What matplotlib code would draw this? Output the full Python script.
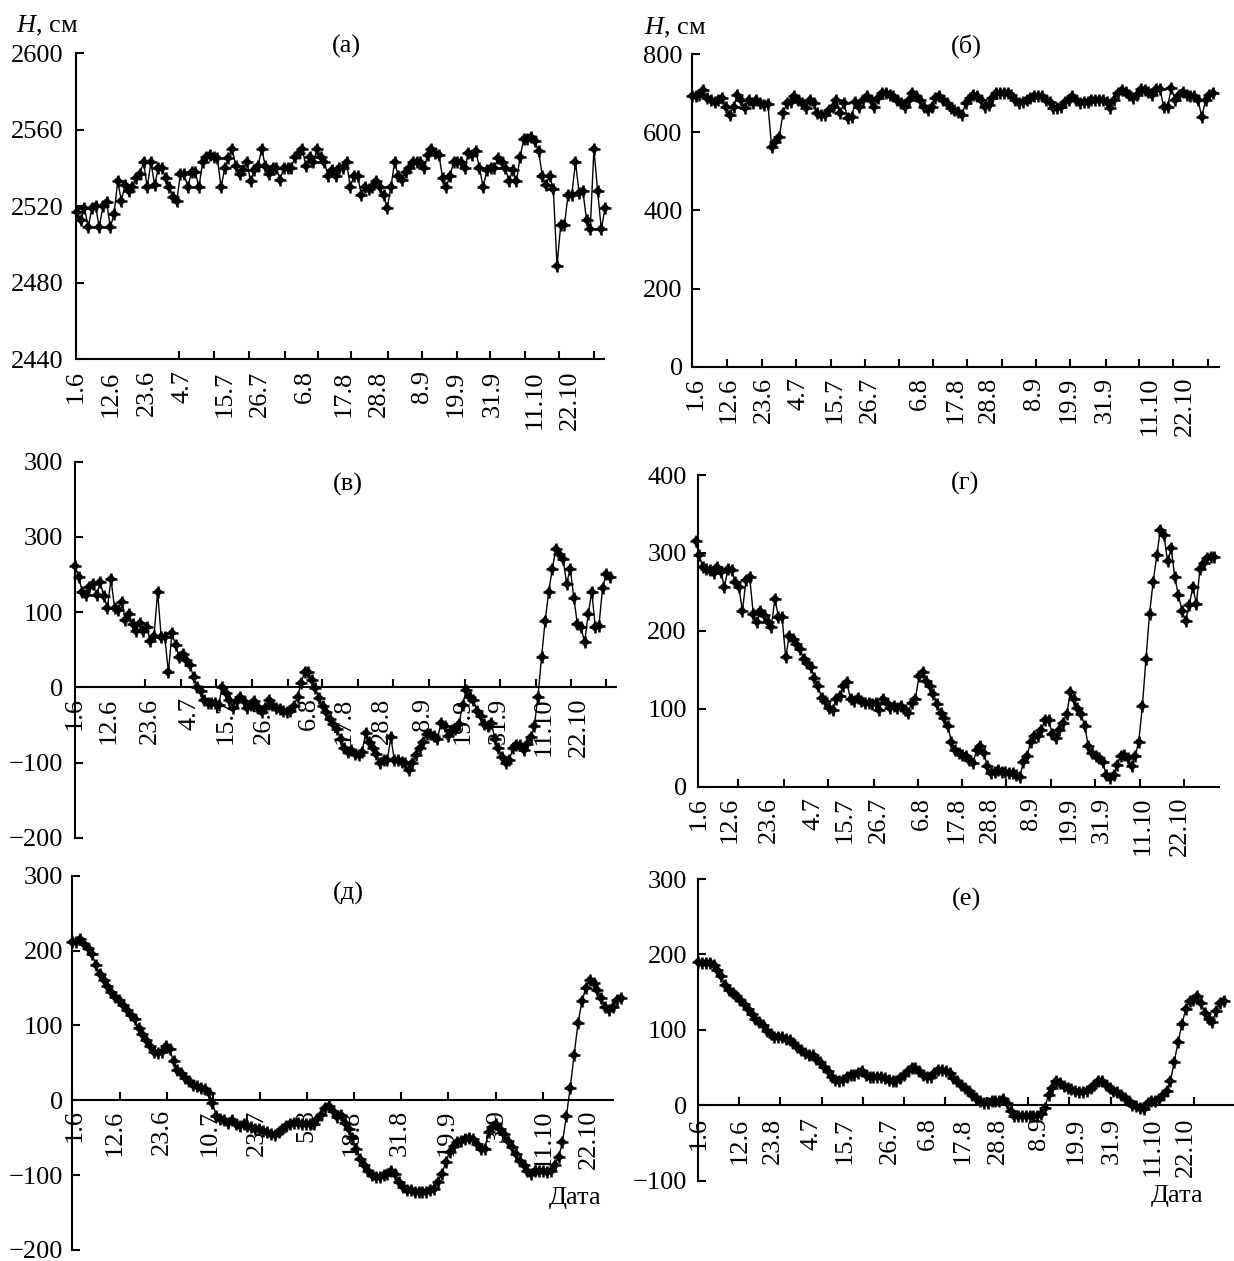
import numpy as np
import matplotlib
matplotlib.use('Agg')
import matplotlib.pyplot as plt

plt.rcParams['font.family'] = ['Liberation Serif', 'DejaVu Serif']
plt.rcParams['mathtext.fontset'] = 'custom'
plt.rcParams['mathtext.rm'] = 'Liberation Serif'
plt.rcParams['mathtext.it'] = 'Liberation Serif:italic'

W, H = 1234, 1261
FS = 19

# ---------------- data (H, cm) ----------------
h_a = [2517, 2513, 2519, 2509, 2519, 2520, 2509, 2520, 2522, 2509, 2516, 2533, 2523, 2531, 2528, 2530,
       2535, 2537, 2543, 2530, 2543, 2531, 2540, 2540, 2535, 2530, 2525, 2523, 2537, 2537, 2530, 2538,
       2538, 2530, 2543, 2546, 2547, 2546, 2545, 2530, 2540, 2545, 2550, 2541, 2537, 2539, 2543, 2533,
       2539, 2541, 2550, 2541, 2537, 2540, 2540, 2534, 2540, 2540, 2540, 2546, 2548, 2550, 2541, 2546,
       2543, 2550, 2546, 2543, 2536, 2539, 2536, 2540, 2540, 2543, 2530, 2536, 2536, 2526, 2530, 2529,
       2530, 2533, 2530, 2526, 2519, 2530, 2543, 2536, 2534, 2538, 2540, 2543, 2543, 2543, 2540, 2547,
       2550, 2548, 2547, 2535, 2530, 2536, 2543, 2543, 2543, 2540, 2548, 2547, 2549, 2540, 2530, 2539,
       2540, 2540, 2545, 2543, 2540, 2533, 2539, 2533, 2546, 2555, 2555, 2556, 2554, 2549, 2536, 2531,
       2536, 2529, 2489, 2510, 2510, 2526, 2526, 2543, 2527, 2528, 2513, 2508, 2550, 2528, 2508, 2519]

h_b = [692, 692, 696, 709, 687, 683, 679, 683, 687, 666, 645, 666, 696, 683, 662, 683, 675, 683, 675,
       670, 673, 563, 576, 589, 649, 675, 679, 692, 683, 675, 662, 683, 675, 649, 645, 645, 657, 666,
       683, 649, 675, 636, 640, 679, 666, 683, 692, 683, 666, 687, 700, 700, 696, 692, 683, 675, 666,
       683, 700, 692, 683, 666, 657, 666, 687, 692, 683, 675, 662, 657, 653, 645, 675, 687, 696, 692,
       683, 666, 670, 687, 700, 700, 700, 700, 696, 683, 675, 679, 683, 687, 692, 692, 692, 683, 679,
       662, 662, 666, 679, 683, 692, 683, 675, 679, 679, 683, 683, 683, 683, 679, 662, 683, 700, 709,
       704, 696, 687, 696, 710, 709, 704, 696, 710, 710, 666, 666, 713, 683, 696, 704, 696, 692, 692,
       683, 640, 683, 696, 700]

h_v = [162, 147, 127, 123, 134, 138, 123, 140, 121, 106, 144, 106, 103, 114, 90, 97, 84, 75, 86, 75,
       80, 62, 69, 127, 67, 67, 20, 73, 56, 40, 45, 36, 30, 14, 1, -5, -16, -20, -20, -20, -23, 1, -7,
       -16, -27, -18, -12, -18, -27, -23, -18, -27, -33, -27, -16, -23, -27, -29, -31, -33, -31, -25,
       -12, 6, 21, 21, 10, -1, -14, -25, -33, -42, -49, -55, -68, -81, -86, -83, -88, -90, -86, -60,
       -73, -81, -88, -101, -97, -97, -66, -97, -97, -99, -101, -110, -101, -90, -81, -73, -62, -62,
       -64, -68, -47, -51, -64, -57, -55, -49, -23, -3, -12, -16, -31, -38, -49, -51, -47, -68, -81,
       -92, -101, -97, -81, -77, -77, -83, -75, -66, -51, -12, 40, 88, 127, 158, 184, 177, 171, 138,
       158, 119, 84, 80, 60, 97, 127, 80, 82, 132, 151, 147]

h_g = [315, 297, 282, 280, 278, 274, 282, 276, 256, 280, 278, 263, 256, 226, 265, 269, 222, 211, 226,
       220, 211, 205, 241, 218, 218, 166, 194, 190, 183, 177, 164, 159, 153, 140, 129, 114, 110, 101,
       99, 112, 116, 129, 134, 112, 110, 114, 110, 108, 108, 106, 108, 99, 112, 108, 101, 103, 101,
       103, 99, 95, 108, 112, 142, 147, 136, 129, 119, 106, 95, 88, 78, 58, 47, 43, 41, 39, 34, 30,
       47, 52, 43, 26, 17, 19, 22, 19, 19, 17, 17, 15, 13, 32, 39, 58, 65, 65, 73, 86, 86, 67, 63, 73,
       82, 93, 121, 112, 101, 93, 78, 52, 43, 39, 37, 32, 15, 11, 15, 28, 39, 41, 37, 26, 39, 58, 103,
       164, 222, 263, 297, 330, 323, 289, 306, 269, 246, 226, 213, 233, 256, 235, 280, 287, 293, 295, 295]

h_d = [212, 212, 216, 209, 203, 196, 181, 169, 161, 152, 145, 138, 134, 127, 121, 114, 108, 96, 88, 81,
       72, 65, 63, 65, 72, 68, 52, 41, 37, 30, 26, 21, 19, 17, 15, 10, -3, -21, -25, -27, -30, -27,
       -32, -34, -32, -34, -36, -38, -38, -41, -43, -45, -47, -43, -38, -34, -32, -30, -30, -32, -32,
       -32, -32, -25, -19, -10, -8, -14, -23, -19, -30, -38, -50, -65, -78, -87, -94, -100, -103, -103,
       -100, -98, -94, -98, -109, -116, -120, -120, -123, -123, -123, -123, -120, -118, -109, -98, -83,
       -69, -61, -56, -54, -52, -50, -52, -58, -65, -65, -43, -36, -32, -38, -45, -54, -63, -72, -81,
       -87, -94, -98, -94, -94, -94, -96, -94, -87, -76, -56, -21, 17, 61, 103, 132, 150, 161, 156,
       147, 136, 125, 121, 125, 134, 136]

h_e = [190, 188, 188, 188, 186, 180, 171, 160, 153, 149, 145, 140, 134, 127, 121, 114, 110, 106, 99, 95,
       90, 90, 90, 88, 86, 82, 77, 73, 69, 67, 67, 62, 58, 51, 45, 38, 34, 32, 34, 38, 40, 40, 43, 45,
       40, 38, 38, 38, 38, 36, 34, 32, 32, 36, 40, 45, 49, 49, 45, 40, 38, 38, 43, 47, 47, 45, 43, 36,
       32, 27, 23, 19, 14, 10, 6, 3, 3, 6, 6, 6, 8, 3, -7, -14, -14, -14, -14, -14, -14, -14, -12, -3,
       14, 23, 32, 30, 25, 23, 21, 19, 17, 17, 19, 23, 27, 32, 32, 27, 23, 19, 17, 14, 10, 6, 1, -1,
       -3, -5, 3, 6, 6, 8, 14, 19, 32, 58, 84, 108, 127, 138, 140, 145, 136, 123, 114, 110, 125, 136, 138]

dates_std = ['1.6', '12.6', '23.6', '4.7', '15.7', '26.7', '6.8', '17.8', '28.8',
             '8.9', '19.9', '31.9', '11.10', '22.10']
dates_d = ['1.6', '12.6', '23.6', '10.7', '23.7', '5.8', '18.8', '31.8', '19.9',
           '3.9', '11.10', '22.10']
dates_e = ['1.6', '12.6', '23.8', '4.7', '15.7', '26.7', '6.8', '17.8', '28.8',
           '8.9', '19.9', '31.9', '11.10', '22.10']

yt_a = [2440, 2480, 2520, 2560, 2600]
yt_b = [0, 200, 400, 600, 800]
yt_v = [-200, -100, 0, 100, 200, 300]
yl_v = ['\u2212200', '\u2212100', '0', '100', '300', '300']
yt_g = [0, 100, 200, 300, 400]
yt_d = [-200, -100, 0, 100, 200, 300]
yt_e = [-100, 0, 100, 200, 300]

titles = ['(а)', '(б)', '(в)', '(г)', '(д)', '(е)']

# ---------------- layout (pixels) ----------------
panels = [
    dict(vals=h_a, box=(75.9, 603.8, 53.3, 359.3), span=(77.1, 605.0), ylim=(2440, 2600),
         yt=yt_a, yl=None, zero=False, labels=dates_std,
         tick_px=[75.9, 110.7, 147.1, 179.1, 213.5, 249.1, 284.7, 317.5, 351.1, 388.3, 422.3,
                  456.7, 490.3, 524.7, 558.7, 594.3],
         lab_px=[75.9, 110.7, 147.1, 182.7, 224.2, 259.8, 304.5, 344.0, 378.4, 421.9, 455.5,
                 493.1, 534.6, 570.2],
         title_xy=(346, 46), xpad=11, ypad=12),
    dict(vals=h_b, box=(691.7, 1219, 54.3, 366.7), span=(691.7, 1213.2), ylim=(0, 800),
         yt=yt_b, yl=None, zero=False, labels=dates_std,
         tick_px=[691.7, 726.9, 761.7, 796.2, 830.6, 864.7, 899.2, 933.2, 967.3, 1001.8, 1035.8,
                  1070.3, 1105.5, 1138.8, 1172.9, 1208.1],
         lab_px=[695.2, 728.5, 763.7, 798.9, 834.2, 869.4, 920.3, 955.6, 988.8, 1033.9, 1069.1,
                 1104.3, 1149.4, 1184.6],
         title_xy=(966.5, 46), xpad=10, ypad=9),
    dict(vals=h_v, box=(75.1, 615.7, 461.7, 838), span=(75.1, 609.7), ylim=(-200, 300),
         yt=yt_v, yl=yl_v, zero=True, labels=dates_std,
         tick_px=[75.1, 108.7, 145.1, 180.7, 216.3, 251.9, 287.5, 322.3, 357.8, 392.6, 429.0,
                  464.6, 500.2, 535.8, 571.4, 606.2],
         lab_px=[75.1, 108.7, 149.5, 189.0, 225.4, 264.1, 308.4, 343.2, 381.6, 423.1, 462.6,
                 498.2, 543.7, 579.3],
         title_xy=(348, 484), xpad=10, ypad=12),
    dict(vals=h_g, box=(698.3, 1219, 475, 786.7), span=(695.6, 1214.4), ylim=(0, 400),
         yt=yt_g, yl=None, zero=False, labels=dates_std,
         tick_px=[698.3, 738.2, 783.7, 827.5, 873.7, 917.6, 961.8, 1005.7, 1050.7, 1094.9,
                  1139.6, 1183.8],
         lab_px=[698.3, 729.6, 768.8, 813.8, 845.1, 878.4, 921.5, 956.7, 990.0, 1031.1, 1068.3,
                 1101.6, 1142.7, 1179.9],
         title_xy=(964.6, 483), xpad=10, ypad=11.5),
    dict(vals=h_d, box=(72.4, 613, 875.7, 1250), span=(72.4, 620.8), ylim=(-200, 300),
         yt=yt_d, yl=None, zero=True, labels=dates_d,
         tick_px=[72.4, 119.8, 167.3, 213.5, 260.2, 307.2, 353.9, 401.3, 448.0, 495.5, 542.5, 589.2],
         lab_px=[75.1, 114.7, 162.1, 209.6, 257.0, 306.4, 351.9, 399.4, 446.8, 496.2, 543.7, 589.2],
         title_xy=(348, 893), xpad=9, ypad=9.5),
    dict(vals=h_e, box=(698.3, 1232.8, 879, 1180.7), span=(698.3, 1223.8), ylim=(-100, 300),
         yt=yt_e, yl=None, zero=True, labels=dates_e,
         tick_px=[698.3, 738.6, 779.7, 821.6, 862.8, 903.9, 945.0, 986.9, 1028.4, 1069.2, 1110.6,
                  1152.5, 1194.4],
         lab_px=[698.3, 739.4, 772.7, 811.9, 845.1, 890.2, 927.4, 962.6, 997.8, 1039.0, 1076.1,
                 1111.4, 1152.5, 1185.8],
         title_xy=(966.5, 899), xpad=12, ypad=11),
]

PT = 0.72  # points per pixel at dpi 100

fig = plt.figure(figsize=(W / 100, H / 100), dpi=100)
fig.patch.set_facecolor('white')


def fmt(v):
    return str(v).replace('-', '\u2212')


for p, title in zip(panels, titles):
    l, r, t, b = p['box']
    ax = fig.add_axes([l / W, 1 - b / H, (r - l) / W, (b - t) / H])
    vals = p['vals']
    n = len(vals)
    f0, f1 = p['span']
    k = (n - 1) / (f1 - f0)

    def px2x(q):
        return (q - f0) * k

    x = np.arange(n)
    ax.plot(x, vals, color='black', lw=1.0, zorder=3, clip_on=False)
    ax.plot(x, vals, ls='none', marker='D', ms=5.6, color='black', mew=0,
            zorder=4, clip_on=False)
    ax.plot(x, vals, ls='none', marker='+', ms=8.0, mew=1.8, color='black',
            zorder=4, clip_on=False)

    ax.set_xlim(px2x(l), px2x(r))
    ax.set_ylim(*p['ylim'])

    for s in ['top', 'right']:
        ax.spines[s].set_visible(False)
    for s in ['left', 'bottom']:
        ax.spines[s].set_linewidth(1.5)
        ax.spines[s].set_color('black')
    if p['zero']:
        ax.spines['bottom'].set_position(('data', 0))

    ax.set_yticks(p['yt'])
    ax.set_yticklabels(p['yl'] if p['yl'] else [fmt(v) for v in p['yt']], fontsize=FS)
    ax.tick_params(axis='y', direction='in', length=6, width=1.5, pad=p['ypad'] * PT)

    ax.set_xticks([px2x(q) for q in p['tick_px']], minor=True)
    ax.set_xticks([px2x(q) for q in p['lab_px']])
    ax.set_xticklabels(p['labels'], rotation=90, fontsize=FS, ha='center', va='top')
    ax.tick_params(axis='x', which='major', length=0, pad=p['xpad'] * PT)
    ax.tick_params(axis='x', which='minor', direction='in', length=6, width=1.5)
    ax.patch.set_alpha(0)

    tx, ty = p['title_xy']
    fig.text(tx / W, 1 - ty / H, title, fontsize=FS, ha='center', va='center')

fig.text(16 / W, 1 - 26 / H, r'$H$, см', fontsize=FS, ha='left', va='center')
fig.text(643.5 / W, 1 - 27.5 / H, r'$H$, см', fontsize=FS, ha='left', va='center')
fig.text(575 / W, 1 - 1198 / H, 'Дата', fontsize=FS, ha='center', va='center')
fig.text(1177 / W, 1 - 1196 / H, 'Дата', fontsize=FS, ha='center', va='center')

fig.savefig('out.png', dpi=100, facecolor='white')
